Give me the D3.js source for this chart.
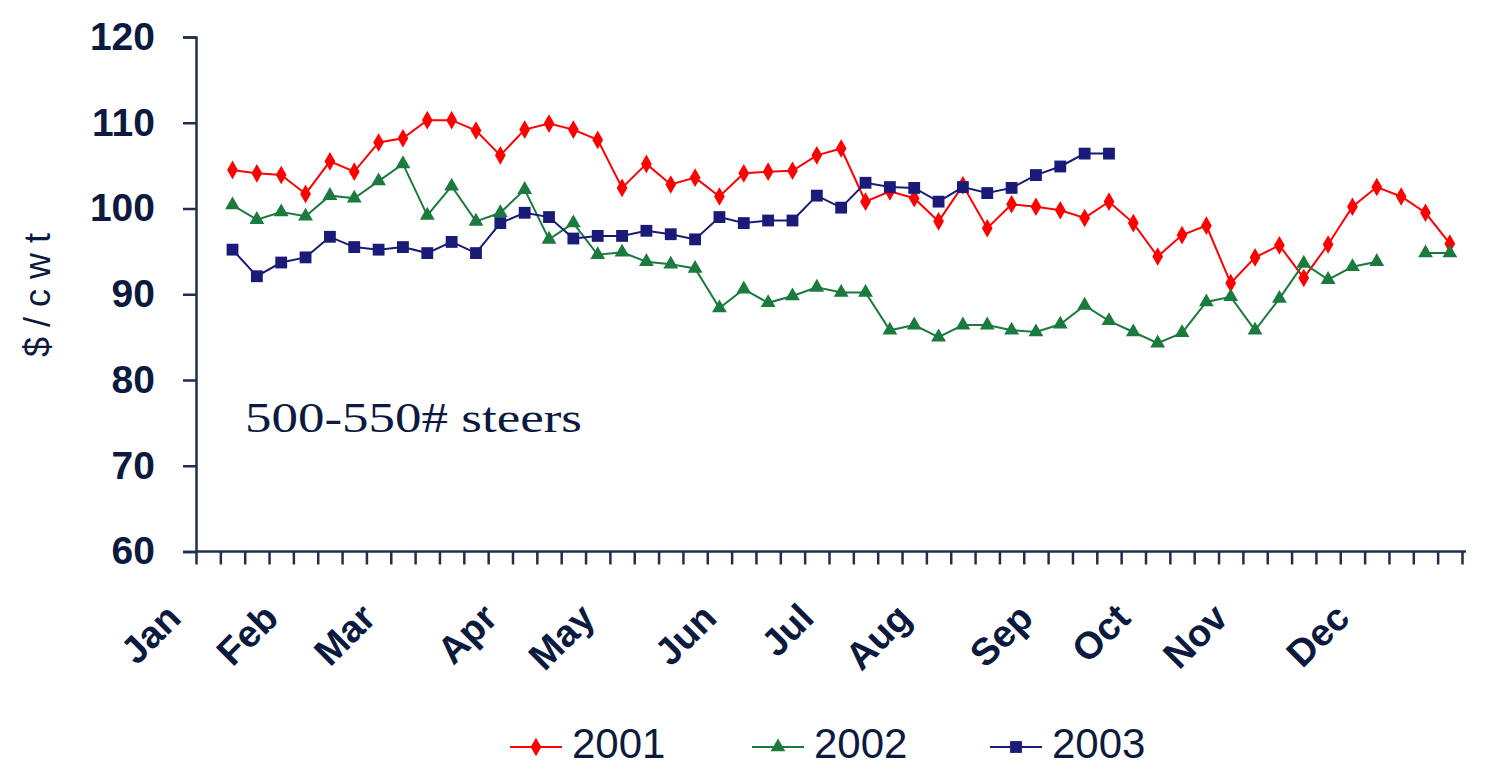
<!DOCTYPE html>
<html>
<head>
<meta charset="utf-8">
<script src="https://cdn.jsdelivr.net/npm/d3@7"></script>
<style>
  body { margin: 0; background: #ffffff; }
</style>
</head>
<body>
<div id="vis-container"></div>
<script>
// weekly categories, 52 weeks, month name only on the first week of each month
var weeks = d3.range(52);
var monthNames = ["Jan", "Feb", "Mar", "Apr", "May", "Jun", "Jul", "Aug", "Sep", "Oct", "Nov", "Dec"];
var monthWeek = [0, 4, 8, 13, 17, 22, 26, 30, 35, 39, 43, 48];
var yTicks = [60, 70, 80, 90, 100, 110, 120];

// $/cwt, week index 1..51 (week 0 has no data)
var prices2001 = [null,
  104.5, 104.1, 103.9, 101.7, 105.5, 104.3, 107.7, 108.2, 110.3, 110.3,
  109.1, 106.2, 109.2, 109.9, 109.2, 108.0, 102.4, 105.2, 102.8, 103.6,
  101.4, 104.1, 104.3, 104.4, 106.2, 107.0, 100.8, 102.0, 101.2, 98.5,
  102.7, 97.7, 100.5, 100.2, 99.8, 98.9, 100.8, 98.3, 94.4, 96.9,
  98.0, 91.3, 94.3, 95.7, 91.9, 95.8, 100.2, 102.5, 101.4, 99.5,
  95.9];
var prices2002 = [null,
  100.4, 98.7, 99.6, 99.1, 101.5, 101.2, 103.2, 105.2, 99.2, 102.6,
  98.5, 99.5, 102.2, 96.4, 98.3, 94.6, 94.9, 93.8, 93.5, 93.0,
  88.4, 90.6, 89.0, 89.8, 90.8, 90.2, 90.2, 85.8, 86.4, 85.0,
  86.4, 86.4, 85.8, 85.6, 86.5, 88.7, 86.9, 85.6, 84.3, 85.5,
  89.1, 89.7, 85.8, 89.5, 93.6, 91.7, 93.2, 93.8, null, 94.8,
  94.8];
var prices2003 = [null,
  95.2, 92.1, 93.7, 94.3, 96.7, 95.5, 95.2, 95.5, 94.8, 96.1,
  94.8, 98.3, 99.5, 99.0, 96.5, 96.8, 96.8, 97.4, 97.0, 96.4,
  99.0, 98.3, 98.6, 98.6, 101.5, 100.1, 103.0, 102.5, 102.4, 100.8,
  102.5, 101.8, 102.4, 103.9, 104.9, 106.4, 106.4];

var seriesNames = ["2001", "2002", "2003"];
var seriesColors = ["#ff0000", "#1b7a3e", "#1a1a78"];
var seriesSymbols = [d3.symbolDiamond, d3.symbolTriangle, d3.symbolSquare];
var symbolSizes = [100, 95, 140];

var width = 1486;
var height = 767;
var textColor = "#0b1a3e";
var axisColor = "#1f2d4f";

var svg = d3.select("#vis-container")
  .append("svg")
  .attr("width", width)
  .attr("height", height)
  .style("background-color", "#ffffff");

// scales: ticks sit between the week categories
var x = d3.scaleLinear().domain([0, weeks.length]).range([196, 1462]);
var y = d3.scaleLinear().domain([60, 120]).range([551.5, 37]);

// y axis
var yAxis = d3.axisLeft(y).tickValues(yTicks).tickSize(13).tickPadding(28);
var yg = svg.append("g")
  .attr("transform", "translate(196,0)")
  .call(yAxis);
yg.selectAll("line, path").attr("stroke", axisColor).attr("stroke-width", 2.5);
yg.selectAll("text")
  .attr("fill", textColor)
  .style("font-family", "'Liberation Sans', Arial, sans-serif")
  .style("font-size", "39px")
  .style("font-weight", "bold");

// x axis, one tick per week
var xAxis = d3.axisBottom(x).tickValues(d3.range(weeks.length + 1)).tickSize(13).tickFormat("");
var xg = svg.append("g")
  .attr("transform", "translate(0,551.5)")
  .call(xAxis);
xg.select(".domain").attr("d", "M196,0H1466");
xg.selectAll("line, path").attr("stroke", axisColor).attr("stroke-width", 2.5);

// month labels, rotated
svg.append("g")
  .selectAll("text")
  .data(monthNames)
  .join("text")
  .attr("transform", function (d, i) {
    return "translate(" + (x(monthWeek[i]) - 13) + ",620) rotate(-45)";
  })
  .attr("text-anchor", "end")
  .attr("fill", textColor)
  .style("font-family", "'Liberation Sans', Arial, sans-serif")
  .style("font-size", "38px")
  .style("font-weight", "bold")
  .text(function (d) { return d; });

// y axis title
svg.append("text")
  .attr("transform", "translate(50,290) rotate(-90)")
  .attr("text-anchor", "middle")
  .attr("fill", textColor)
  .style("font-family", "'Liberation Sans', Arial, sans-serif")
  .style("font-size", "36px")
  .style("letter-spacing", "10px")
  .text("$/cwt");

// annotation
svg.append("text")
  .attr("x", 245)
  .attr("y", 432)
  .attr("textLength", 337)
  .attr("lengthAdjust", "spacingAndGlyphs")
  .attr("fill", textColor)
  .style("font-family", "'Liberation Serif', 'Times New Roman', serif")
  .style("font-size", "42px")
  .text("500-550# steers");

// lines and markers
var allSeries = [prices2001, prices2002, prices2003];
var line = d3.line()
  .defined(function (d) { return d != null; })
  .x(function (d, i) { return x(i + 0.5); })
  .y(function (d) { return y(d); });

for (var s = 0; s < allSeries.length; ++s) {
  var values = allSeries[s];
  svg.append("path")
    .attr("d", line(values))
    .attr("fill", "none")
    .attr("stroke", seriesColors[s])
    .attr("stroke-width", 2);

  var pts = values.map(function (d, i) { return { i: i, v: d }; })
    .filter(function (p) { return p.v != null; });
  svg.append("g")
    .selectAll("path")
    .data(pts)
    .join("path")
    .attr("transform", function (p) { return "translate(" + x(p.i + 0.5) + "," + y(p.v) + ")"; })
    .attr("d", d3.symbol().type(seriesSymbols[s]).size(symbolSizes[s]))
    .attr("fill", seriesColors[s]);
}

// legend at the bottom
var legendX = [510, 752, 990];
var legend = svg.append("g");
for (var k = 0; k < seriesNames.length; ++k) {
  legend.append("line")
    .attr("x1", legendX[k])
    .attr("x2", legendX[k] + 52)
    .attr("y1", 747)
    .attr("y2", 747)
    .attr("stroke", seriesColors[k])
    .attr("stroke-width", 2);
  legend.append("path")
    .attr("transform", "translate(" + (legendX[k] + 26) + ",747)")
    .attr("d", d3.symbol().type(seriesSymbols[k]).size(symbolSizes[k]))
    .attr("fill", seriesColors[k]);
  legend.append("text")
    .attr("x", legendX[k] + 62)
    .attr("y", 758)
    .attr("fill", textColor)
    .style("font-family", "'Liberation Sans', Arial, sans-serif")
    .style("font-size", "42px")
    .text(seriesNames[k]);
}
</script>
</body>
</html>
